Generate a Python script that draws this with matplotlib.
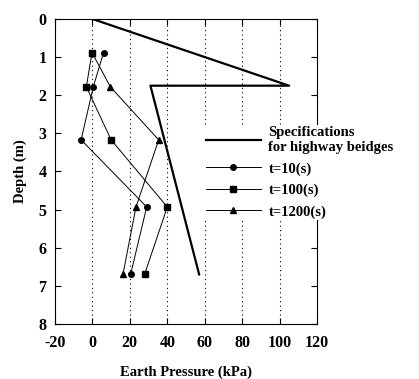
import numpy as np
from matplotlib import pyplot as plt

# Design specification line (Specifications for highway bridges)
spec_p = [0, 105, 31, 57]
spec_d = [0, 1.75, 1.75, 6.7]

# Measured earth pressures (kPa) vs depth (m)
depth = [0.88, 1.78, 3.17, 4.93, 6.68]
p_t10 = [6, 0.5, -6, 29, 20.5]
p_t100 = [-0.2, -3.2, 10, 40, 28]
p_t1200 = [-0.2, 9.6, 35.4, 23.3, 16.4]

labels = ['Specifications\nfor highway beidges', 't=10(s)', 't=100(s)', 't=1200(s)']
xticks = [-20, 0, 20, 40, 60, 80, 100, 120]
yticks = [0, 1, 2, 3, 4, 5, 6, 7, 8]

plt.rcParams['font.family'] = ['Liberation Serif', 'DejaVu Serif']
plt.rcParams['font.weight'] = 'bold'
plt.rcParams['axes.unicode_minus'] = False

fig = plt.figure(figsize=(4.19, 3.79), dpi=100)
ax = fig.add_axes([0.131, 0.145, 0.626, 0.805])

ax.plot(spec_p, spec_d, color='black', lw=1.6, label=labels[0])
ax.plot(p_t10, depth, color='black', lw=0.7, marker='o', ms=4, label=labels[1])
ax.plot(p_t100, depth, color='black', lw=0.7, marker='s', ms=4, label=labels[2])
ax.plot(p_t1200, depth, color='black', lw=0.7, marker='^', ms=4, label=labels[3])

ax.set_xlim(-20, 120)
ax.set_ylim(8, 0)
ax.set_xticks(xticks)
ax.set_yticks(yticks)
for v in [0, 20, 40, 60, 80, 100]:
    ax.axvline(v, color='black', ls=(0, (1, 3)), lw=0.8, zorder=0)
ax.tick_params(direction='in', top=True, right=True, labelsize=11.5, length=4, width=0.8)
ax.tick_params(axis='x', pad=8)
ax.tick_params(axis='y', pad=6)
for lab in ax.get_xticklabels() + ax.get_yticklabels():
    lab.set_fontweight('bold')

ax.set_xlabel('Earth Pressure (kPa)', fontsize=10.5, fontweight='bold', labelpad=10)
ax.set_ylabel('Depth (m)', fontsize=10.5, fontweight='bold', labelpad=8)

leg = fig.legend(loc='upper left', bbox_to_anchor=(0.47, 0.69), frameon=True,
                 edgecolor='none', facecolor='white', framealpha=1,
                 handlelength=3.8, fontsize=10.5, labelspacing=0.55,
                 borderpad=0.1, handletextpad=0.5)
for t in leg.get_texts():
    t.set_fontweight('bold')

fig.savefig('out.png', dpi=100)
